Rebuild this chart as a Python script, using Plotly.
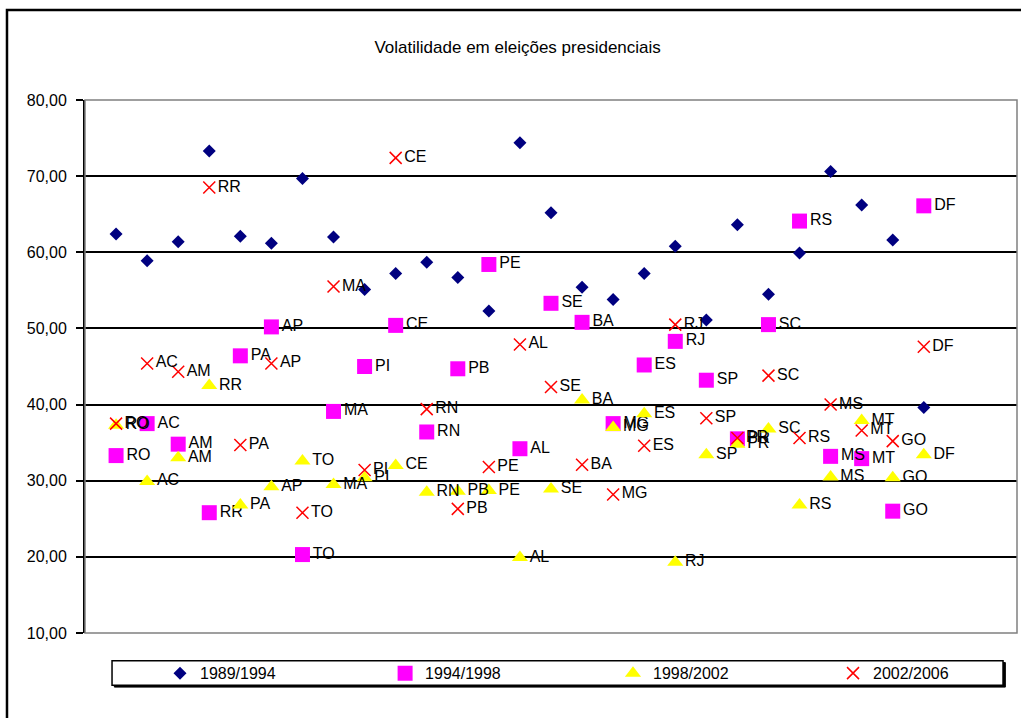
import plotly.graph_objects as go

# Brazilian states (UF), in the order they are plotted along the x axis
states = ["RO", "AC", "AM", "RR", "PA", "AP", "TO", "MA", "PI", "CE", "RN", "PB",
          "PE", "AL", "SE", "BA", "MG", "ES", "RJ", "SP", "PR", "SC", "RS", "MS",
          "MT", "GO", "DF"]

# Electoral volatility per state, one list per pair of presidential elections
vol_1989_1994 = [62.4, 58.9, 61.4, 73.3, 62.1, 61.2, 69.7, 62.0, 55.1, 57.2, 58.7, 56.7,
                 52.3, 74.4, 65.2, 55.4, 53.8, 57.2, 60.8, 51.1, 63.6, 54.5, 59.9, 70.6,
                 66.2, 61.6, 39.6]
vol_1994_1998 = [33.3, 37.5, 34.8, 25.8, 46.4, 50.2, 20.3, 39.1, 45.0, 50.4, 36.4, 44.7,
                 58.4, 34.2, 53.3, 50.8, 37.5, 45.2, 48.3, 43.2, 35.5, 50.5, 64.1, 33.2,
                 32.9, 26.0, 66.1]
vol_1998_2002 = [37.3, 29.9, 33.0, 42.5, 26.8, 29.2, 32.6, 29.5, 30.4, 32.0, 28.5, 28.6,
                 28.7, 19.9, 28.9, 40.6, 37.0, 38.8, 19.3, 33.4, 34.8, 36.8, 26.8, 30.5,
                 37.9, 30.4, 33.4]
vol_2002_2006 = [37.5, 45.4, 44.3, 68.5, 34.7, 45.4, 25.8, 55.5, 31.4, 72.4, 39.4, 26.3,
                 31.8, 47.9, 42.3, 32.1, 28.2, 34.6, 50.5, 38.2, 35.6, 43.8, 35.6, 40.0,
                 36.6, 35.2, 47.6]

series_names = ["1989/1994", "1994/1998", "1998/2002", "2002/2006"]

y_tickvals = [10, 20, 30, 40, 50, 60, 70, 80]
y_ticktext = ["10,00", "20,00", "30,00", "40,00", "50,00", "60,00", "70,00", "80,00"]

FONT = "Liberation Sans, Arial, sans-serif"
xpos = list(range(1, len(states) + 1))

fig = go.Figure()

# 1989/1994: navy diamonds, no data labels
fig.add_trace(go.Scatter(
    x=xpos, y=vol_1989_1994, name=series_names[0], mode="markers", legend="legend",
    marker=dict(symbol="diamond", size=10, color="#000080", line=dict(width=0)),
))

# 1994/1998: magenta squares labelled with the state
fig.add_trace(go.Scatter(
    x=xpos, y=vol_1994_1998, name=series_names[1], mode="markers+text", legend="legend2",
    text=states, textposition="middle right",
    textfont=dict(family=FONT, size=16, color="#000000"),
    marker=dict(symbol="square", size=15, color="#FF00FF", line=dict(width=0)),
))

# 1998/2002: yellow triangles labelled with the state
fig.add_trace(go.Scatter(
    x=xpos, y=vol_1998_2002, name=series_names[2], mode="markers+text", legend="legend3",
    text=states, textposition="middle right",
    textfont=dict(family=FONT, size=16, color="#000000"),
    marker=dict(symbol="triangle-up", size=14, color="#FFFF00", line=dict(width=0)),
))

# 2002/2006: red crosses labelled with the state
fig.add_trace(go.Scatter(
    x=xpos, y=vol_2002_2006, name=series_names[3], mode="markers+text", legend="legend4",
    text=states, textposition="middle right",
    textfont=dict(family=FONT, size=16, color="#000000"),
    marker=dict(symbol="x-thin", size=12, color="#FF0000",
                line=dict(width=1.5, color="#FF0000")),
))

shapes = [
    # outer chart frame
    dict(type="rect", xref="paper", yref="paper",
         x0=-0.0837, x1=1.012, y0=-0.25, y1=1.169,
         line=dict(color="#000000", width=2.5), layer="below"),
    # plot area border
    dict(type="rect", xref="paper", yref="paper",
         x0=0, x1=1, y0=0, y1=1,
         line=dict(color="#808080", width=1.5), layer="above"),
    # legend box shadow and box
    dict(type="rect", xref="paper", yref="paper",
         x0=0.0315, x1=0.9875, y0=-0.1015, y1=-0.0555,
         line=dict(color="#000000", width=1), fillcolor="#000000", layer="below"),
    dict(type="rect", xref="paper", yref="paper",
         x0=0.029, x1=0.985, y0=-0.098, y1=-0.052,
         line=dict(color="#000000", width=1.5), fillcolor="#FFFFFF", layer="below"),
]


def legend_at(x):
    """One single-entry legend placed inside the shared legend box."""
    return dict(orientation="h", x=x, xanchor="left", y=-0.0755, yanchor="middle",
                bgcolor="rgba(0,0,0,0)", borderwidth=0, itemwidth=30,
                font=dict(family=FONT, size=16, color="#000000"))


fig.update_layout(
    width=1021, height=718,
    margin=dict(l=85, r=4, t=100, b=85, autoexpand=False),
    paper_bgcolor="#FFFFFF", plot_bgcolor="#FFFFFF",
    font=dict(family=FONT, size=16, color="#000000"),
    title=dict(text="Volatilidade em eleições presidenciais",
               font=dict(family=FONT, size=17, color="#000000"),
               x=0.507, xanchor="center", xref="container",
               y=0.9345, yanchor="middle", yref="container"),
    showlegend=True,
    legend=legend_at(0.0805),
    legend2=legend_at(0.322),
    legend3=legend_at(0.5665),
    legend4=legend_at(0.8026),
    shapes=shapes,
    xaxis=dict(range=[0, 30], showgrid=False, zeroline=False, showticklabels=False,
               ticks="", showline=False, fixedrange=True),
    yaxis=dict(range=[10, 80], tickvals=y_tickvals, ticktext=y_ticktext,
               showgrid=True, gridcolor="#000000", gridwidth=1.5,
               zeroline=False, showline=True, linecolor="#000000", linewidth=2,
               ticks="outside", ticklen=7, tickwidth=1.5, tickcolor="#000000",
               ticklabelstandoff=6,
               tickfont=dict(family=FONT, size=16, color="#000000"),
               fixedrange=True),
)

fig.write_html("out.html")
